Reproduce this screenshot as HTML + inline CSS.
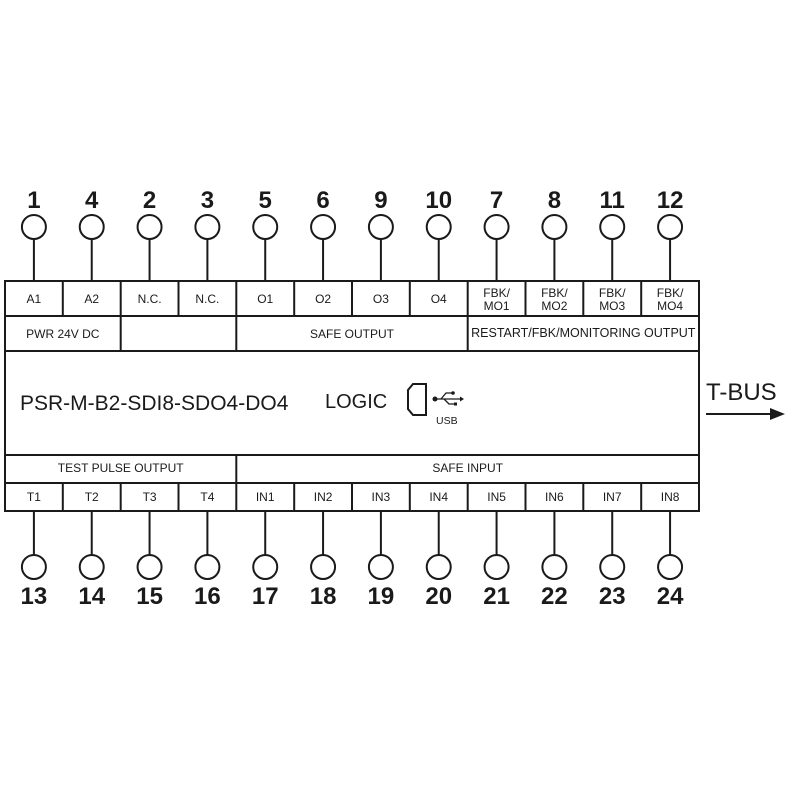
<!DOCTYPE html>
<html><head><style>
html,body{margin:0;padding:0;background:#fff;}
svg{display:block;}
text{font-family:"Liberation Sans",Arial,sans-serif;fill:#1a1a1a;}
</style></head><body>
<svg width="800" height="800" viewBox="0 0 800 800" xmlns="http://www.w3.org/2000/svg">
<g stroke="#1a1a1a" stroke-width="2" fill="none">
<rect x="5" y="281" width="694" height="230"/>
<line x1="5" y1="316" x2="699" y2="316"/>
<line x1="5" y1="351" x2="699" y2="351"/>
<line x1="5" y1="455" x2="699" y2="455"/>
<line x1="5" y1="483" x2="699" y2="483"/>
<line x1="62.8" y1="281" x2="62.8" y2="316"/>
<line x1="120.7" y1="281" x2="120.7" y2="351"/>
<line x1="178.5" y1="281" x2="178.5" y2="316"/>
<line x1="236.3" y1="281" x2="236.3" y2="351"/>
<line x1="294.2" y1="281" x2="294.2" y2="316"/>
<line x1="352" y1="281" x2="352" y2="316"/>
<line x1="409.8" y1="281" x2="409.8" y2="316"/>
<line x1="467.7" y1="281" x2="467.7" y2="351"/>
<line x1="525.5" y1="281" x2="525.5" y2="316"/>
<line x1="583.3" y1="281" x2="583.3" y2="316"/>
<line x1="641.2" y1="281" x2="641.2" y2="316"/>
<line x1="236.3" y1="455" x2="236.3" y2="511"/>
<line x1="62.8" y1="483" x2="62.8" y2="511"/>
<line x1="120.7" y1="483" x2="120.7" y2="511"/>
<line x1="178.5" y1="483" x2="178.5" y2="511"/>
<line x1="294.2" y1="483" x2="294.2" y2="511"/>
<line x1="352" y1="483" x2="352" y2="511"/>
<line x1="409.8" y1="483" x2="409.8" y2="511"/>
<line x1="467.7" y1="483" x2="467.7" y2="511"/>
<line x1="525.5" y1="483" x2="525.5" y2="511"/>
<line x1="583.3" y1="483" x2="583.3" y2="511"/>
<line x1="641.2" y1="483" x2="641.2" y2="511"/>
<g id="tt">
<line x1="33.9" y1="239" x2="33.9" y2="281"/><circle cx="33.9" cy="227" r="12"/>
<line x1="33.9" y1="511" x2="33.9" y2="555"/><circle cx="33.9" cy="567" r="12"/>
</g>
<use href="#tt" x="57.83"/><use href="#tt" x="115.67"/><use href="#tt" x="173.5"/>
<use href="#tt" x="231.33"/><use href="#tt" x="289.17"/><use href="#tt" x="347"/>
<use href="#tt" x="404.83"/><use href="#tt" x="462.67"/><use href="#tt" x="520.5"/>
<use href="#tt" x="578.33"/><use href="#tt" x="636.17"/>
<path d="M413,384 L426,384 L426,415 L413,415 L408,409 L408,390 Z"/>
<line x1="706" y1="414" x2="772" y2="414"/>
</g>
<polygon points="770,408 785,414 770,420" fill="#1a1a1a"/>
<g stroke="#1a1a1a" stroke-width="1.3" fill="none">
<line x1="435" y1="399" x2="462" y2="399"/>
<path d="M441,399 L446,393 L452,393"/>
<path d="M444,399 L449,404 L455,404"/>
</g>
<circle cx="435" cy="399" r="2.5" fill="#1a1a1a"/>
<circle cx="453" cy="393" r="1.8" fill="#1a1a1a"/>
<rect x="454" y="402.5" width="3" height="3" fill="#1a1a1a"/>
<polygon points="460,396.5 464,399 460,401.5" fill="#1a1a1a"/>
<text x="436" y="424" font-size="10.5">USB</text>

<g font-size="24" font-weight="bold" text-anchor="middle">
<text x="33.9" y="208">1</text><text x="91.7" y="208">4</text><text x="149.6" y="208">2</text><text x="207.4" y="208">3</text>
<text x="265.2" y="208">5</text><text x="323.1" y="208">6</text><text x="380.9" y="208">9</text><text x="438.7" y="208">10</text>
<text x="496.6" y="208">7</text><text x="554.4" y="208">8</text><text x="612.2" y="208">11</text><text x="670.1" y="208">12</text>
<text x="33.9" y="604">13</text><text x="91.7" y="604">14</text><text x="149.6" y="604">15</text><text x="207.4" y="604">16</text>
<text x="265.2" y="604">17</text><text x="323.1" y="604">18</text><text x="380.9" y="604">19</text><text x="438.7" y="604">20</text>
<text x="496.6" y="604">21</text><text x="554.4" y="604">22</text><text x="612.2" y="604">23</text><text x="670.1" y="604">24</text>
</g>
<g font-size="12" text-anchor="middle">
<text x="33.9" y="303">A1</text><text x="91.7" y="303">A2</text><text x="149.6" y="303">N.C.</text><text x="207.4" y="303">N.C.</text>
<text x="265.2" y="303">O1</text><text x="323.1" y="303">O2</text><text x="380.9" y="303">O3</text><text x="438.7" y="303">O4</text>
<text x="496.6" y="297">FBK/</text><text x="496.6" y="310">MO1</text>
<text x="554.4" y="297">FBK/</text><text x="554.4" y="310">MO2</text>
<text x="612.2" y="297">FBK/</text><text x="612.2" y="310">MO3</text>
<text x="670.1" y="297">FBK/</text><text x="670.1" y="310">MO4</text>
<text x="62.8" y="338">PWR 24V DC</text>
<text x="352" y="338">SAFE OUTPUT</text>
<text x="583.3" y="337" font-size="12.5">RESTART/FBK/MONITORING OUTPUT</text>
<text x="120.7" y="472">TEST PULSE OUTPUT</text>
<text x="467.7" y="472">SAFE INPUT</text>
<text x="33.9" y="501">T1</text><text x="91.7" y="501">T2</text><text x="149.6" y="501">T3</text><text x="207.4" y="501">T4</text>
<text x="265.2" y="501">IN1</text><text x="323.1" y="501">IN2</text><text x="380.9" y="501">IN3</text><text x="438.7" y="501">IN4</text>
<text x="496.6" y="501">IN5</text><text x="554.4" y="501">IN6</text><text x="612.2" y="501">IN7</text><text x="670.1" y="501">IN8</text>
</g>
<text x="20" y="410" font-size="21">PSR-M-B2-SDI8-SDO4-DO4</text>
<text x="325" y="408" font-size="20">LOGIC</text>
<text x="706" y="400" font-size="24">T-BUS</text>
</svg>
</body></html>
